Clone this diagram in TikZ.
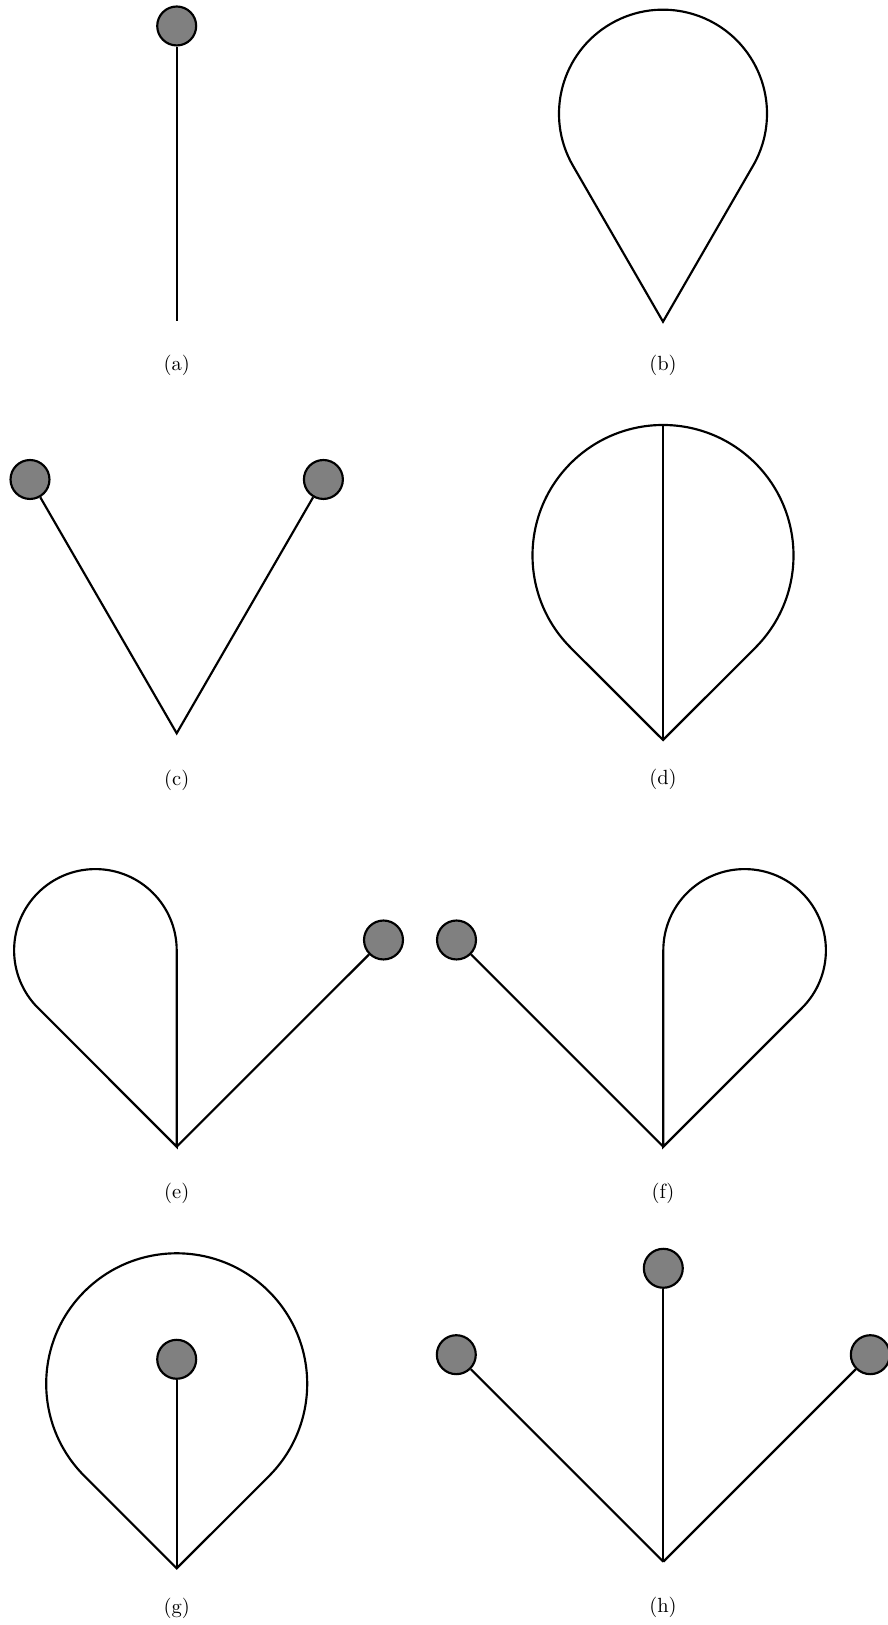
\documentclass[tikz,border=0pt]{standalone}
\usetikzlibrary{calc}
\begin{document}
\begin{tikzpicture}[x=0.4878pt,y=0.4878pt,
  line width=1.05pt,
  vtx/.style={circle,draw,fill=gray,minimum size=19pt,inner sep=0pt,line width=1.05pt},
  lab/.style={inner sep=0pt},
  edge/.style={draw,line width=1.05pt}]
\useasboundingbox (0,0) rectangle (888,1625);
% (a)
\coordinate (aV) at (176.7,1304.3);
\node[vtx] (aN) at (176.7,1599) {};
\draw (aV) -- (aN);
\node[lab] (aL) at (176.7,1259.3) {(a)};
% (b)
\coordinate (bT) at (663,1303.3);
\coordinate (bC) at (663,1511.3);
\draw[line join=miter] (bT) -- ($(bC)+(210:104)$) arc[start angle=210,end angle=-30,radius=104] -- cycle;
\node[lab] (bL) at (663,1259.3) {(b)};
% (c)
\coordinate (cV) at (176.7,891.7);
\node[vtx] (cN1) at (30,1145.5) {};
\node[vtx] (cN2) at (323.4,1145.5) {};
\draw (cN1) -- (cV) -- (cN2);
\node[lab] (cL) at (176.7,845) {(c)};
% (d)
\coordinate (dT) at (663,885);
\coordinate (dC) at (663,1069.5);
\draw (dT) -- ($(dC)+(225:130.5)$) arc[start angle=225,end angle=-45,radius=130.5] -- cycle;
\coordinate (dTop) at ($(dC)+(90:130.5)$);
\draw (dT) -- (dTop);
\node[lab] (dL) at (663,845.7) {(d)};
% (e)
\coordinate (eV) at (176.7,478.3);
\coordinate (eC) at (95.4,674.6);
\node[vtx] (eN) at (383.5,685) {};
\draw (eV) -- ($(eC)+(0:81.3)$) arc[start angle=0,end angle=225,radius=81.3] -- cycle;
\draw (eV) -- (eN);
\node[lab] (eL) at (176.7,431.7) {(e)};
% (f)
\coordinate (fV) at (663.3,478.3);
\coordinate (fC) at (744.6,674.6);
\node[vtx] (fN) at (456.5,685) {};
\draw (fV) -- ($(fC)+(180:81.3)$) arc[start angle=180,end angle=-45,radius=81.3] -- cycle;
\draw (fV) -- (fN);
\node[lab] (fL) at (663,431.7) {(f)};
% (g)
\coordinate (gV) at (176.7,56.7);
\coordinate (gC) at (176.7,241.2);
\draw (gV) -- ($(gC)+(225:130.5)$) arc[start angle=225,end angle=-45,radius=130.5] -- cycle;
\node[vtx] (gN) at (176.7,265.7) {};
\draw (gV) -- (gN);
\node[lab] (gL) at (176.7,16.7) {(g)};
% (h)
\coordinate (hV) at (663.3,63.3);
\node[vtx] (hN1) at (456.3,270.3) {};
\node[vtx] (hN2) at (663.3,356.7) {};
\node[vtx] (hN3) at (870.3,270.3) {};
\draw (hV) -- (hN1);
\draw (hV) -- (hN2);
\draw (hV) -- (hN3);
\node[lab] (hL) at (663,17.3) {(h)};
\end{tikzpicture}
\end{document}
